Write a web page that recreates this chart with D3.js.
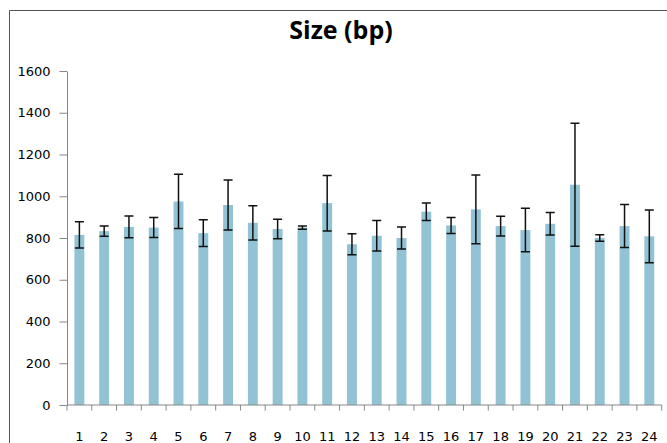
<!DOCTYPE html>
<html>
<head>
<meta charset="utf-8">
<script src="https://cdn.jsdelivr.net/npm/d3@7"></script>
<style>
  html, body { margin: 0; padding: 0; background: #fff; }
  svg { display: block; }
</style>
</head>
<body>
<svg id="chart" width="667" height="443"></svg>
<script>
// values
let categories = d3.range(1, 25).map(String);
let sizes  = [815, 833, 853, 850, 975, 823, 958, 873, 843, 850, 967, 770,
              811, 800, 926, 860, 937, 857, 838, 868, 1055, 800, 857, 808];
let errors = [63, 25, 52, 48, 130, 64, 120, 82, 47, 8, 133, 50,
              73, 53, 42, 38, 165, 47, 104, 54, 295, 16, 103, 126];
let yTicks = [0, 200, 400, 600, 800, 1000, 1200, 1400, 1600];

let svg = d3.select('#chart');
let plotLeft = 67, plotRight = 661.7, plotTop = 71, plotBottom = 405;
let axisColor = '#868686';
let barColor = '#92c3d5';

// outer frame (cropped chart border)
svg.append('path')
    .attr('d', 'M9.5,443 L9.5,10.5 L667,10.5')
    .attr('fill', 'none')
    .attr('stroke', '#555')
    .attr('stroke-width', 1);

svg.append('text')
    .attr('x', 341)
    .attr('y', 39)
    .attr('text-anchor', 'middle')
    .attr('font-family', 'Open Sans')
    .attr('font-weight', 'bold')
    .attr('font-size', 25)
    .attr('fill', '#000')
    .text('Size (bp)');

let x = d3.scaleBand().domain(categories).range([plotLeft, plotRight]).paddingInner(0.6).paddingOuter(0.3);
let xb = d3.scaleBand().domain(categories).range([plotLeft, plotRight]);
let y = d3.scaleLinear().domain([0, 1600]).range([plotBottom, plotTop]);

// bars
svg.append('g').selectAll('rect')
    .data(sizes)
    .join('rect')
    .attr('x', (d, i) => x(categories[i]))
    .attr('y', d => y(d))
    .attr('width', x.bandwidth())
    .attr('height', d => y(0) - y(d))
    .attr('fill', barColor);

// y axis
let yAxis = svg.append('g')
    .attr('transform', `translate(${plotLeft},0)`)
    .call(d3.axisLeft(y).tickValues(yTicks).tickFormat(d3.format('d'))
        .tickSize(7.5).tickPadding(9).tickSizeOuter(0));
yAxis.select('.domain').attr('stroke', axisColor);
yAxis.selectAll('.tick line').attr('stroke', axisColor);
yAxis.selectAll('text')
    .attr('font-family', 'DejaVu Sans')
    .attr('font-size', 13)
    .attr('fill', '#000');

// x axis: line, boundary ticks, centred labels
let xg = svg.append('g').attr('transform', `translate(0,${plotBottom})`);
xg.append('line')
    .attr('x1', plotLeft).attr('x2', plotRight)
    .attr('stroke', axisColor);
xg.selectAll('.bt')
    .data(categories.concat(['end']))
    .join('line')
    .attr('class', 'bt')
    .attr('x1', d => d == 'end' ? plotRight : xb(d))
    .attr('x2', d => d == 'end' ? plotRight : xb(d))
    .attr('y1', 0).attr('y2', 5.5)
    .attr('stroke', axisColor);
xg.selectAll('text')
    .data(categories)
    .join('text')
    .attr('x', d => xb(d) + xb.bandwidth() / 2)
    .attr('y', 35.5)
    .attr('text-anchor', 'middle')
    .attr('font-family', 'DejaVu Sans')
    .attr('font-size', 13)
    .attr('fill', '#000')
    .text(d => d);

// error bars
let eg = svg.append('g').attr('stroke', '#111').attr('stroke-width', 1.5).attr('fill', 'none');
sizes.forEach((v, i) => {
    let cx = x(categories[i]) + x.bandwidth() / 2;
    let hi = y(v + errors[i]), lo = y(v - errors[i]);
    eg.append('path')
        .attr('d', `M${cx},${hi}V${lo}M${cx - 4.5},${hi}H${cx + 4.5}M${cx - 4.5},${lo}H${cx + 4.5}`);
});
</script>
</body>
</html>
